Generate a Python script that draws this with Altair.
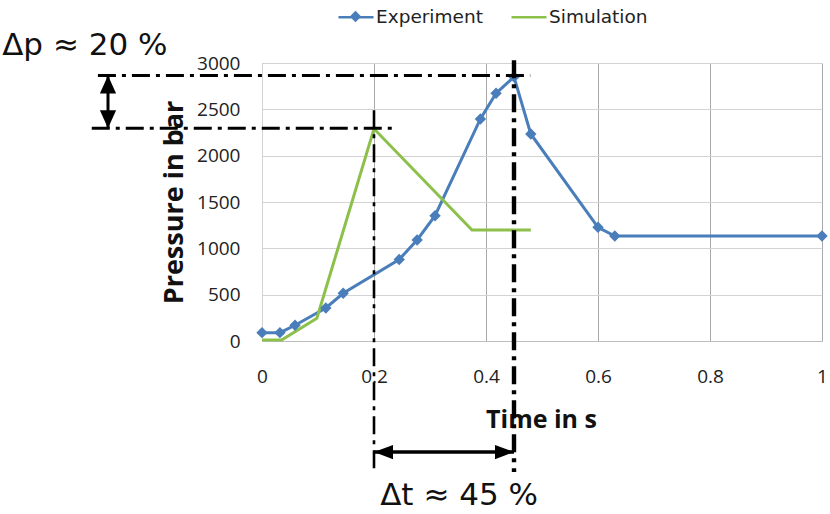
import altair as alt
import pandas as pd

# ---- data ----
exp_t = [0.0, 0.032, 0.059, 0.114, 0.145, 0.245, 0.277, 0.309, 0.390, 0.418, 0.450, 0.480, 0.600, 0.630, 1.0]
exp_p = [90, 90, 170, 356, 515, 880, 1090, 1352, 2396, 2673, 2850, 2234, 1227, 1133, 1133]
sim_t = [0.0, 0.035, 0.098, 0.200, 0.375, 0.480]
sim_p = [10, 10, 245, 2290, 1198, 1198]

series_names = ["Experiment", "Simulation"]
series_colors = ["#4a7ebb", "#8cc04a"]

x_ticks = [0, 0.2, 0.4, 0.6, 0.8, 1]
y_ticks = [0, 500, 1000, 1500, 2000, 2500, 3000]

# annotation guide lines (dash-dot), in data units
guide_x = [-0.293, -0.304, 0.2, 0.45]
guide_x2 = [0.479, 0.239, 0.2, 0.45]
guide_y = [2865, 2295, 2490, 3030]
guide_y2 = [2865, 2295, -1414, -1414]
guide_w = [3.2, 3.0, 2.6, 4.4]

# double arrows
varrow_t = -0.275
varrow_p = [2865, 2295]
harrow_t = [0.2, 0.45]
harrow_p = -1198

ann_text = ["Δp ≈ 20 %", "Δt ≈ 45 %"]
ann_t = [-0.464, 0.211]
ann_p = [3086, -1765]

# ---- tables ----
df = pd.concat([
    pd.DataFrame({"t": exp_t, "p": exp_p, "series": series_names[0]}),
    pd.DataFrame({"t": sim_t, "p": sim_p, "series": series_names[1]}),
], ignore_index=True)

guides = pd.DataFrame({"x": guide_x, "x2": guide_x2, "y": guide_y, "y2": guide_y2, "w": guide_w})
px_per_bar = 278 / 3000.0
px_per_t = 560.0
v_off = 9 / px_per_bar
h_off = 9.5 / px_per_t
vheads = pd.DataFrame({"t": [varrow_t, varrow_t],
                       "p": [varrow_p[0] - v_off, varrow_p[1] + v_off],
                       "dir": ["up", "down"]})
hheads = pd.DataFrame({"t": [harrow_t[0] + h_off, harrow_t[1] - h_off],
                       "p": [harrow_p, harrow_p],
                       "dir": ["left", "right"]})
varrow = pd.DataFrame({"t": [varrow_t], "p": [varrow_p[0]], "p2": [varrow_p[1]]})
harrow = pd.DataFrame({"t": [harrow_t[0]], "t2": [harrow_t[1]], "p": [harrow_p]})
texts = pd.DataFrame({"t": ann_t, "p": ann_p, "txt": ann_text})

xs = alt.Scale(domain=[0, 1], nice=False, zero=False)
ys = alt.Scale(domain=[0, 3000], nice=False, zero=False)

x_axis = alt.Axis(values=x_ticks, format="~g", title="Time in s", grid=True, gridColor="#a9a9a9",
                  gridWidth=1, ticks=False, domainColor="#bdbdbd", labelPadding=26, labelFlush=False,
                  labelFont="Open Sans", labelFontSize=19, labelColor="#222222",
                  titleFont="Open Sans", titleFontSize=25, titleFontWeight="bold", titleColor="#111111",
                  titleX=279, titleY=86, titleBaseline="alphabetic", titleAlign="center")
y_axis = alt.Axis(values=y_ticks, format="d", title="Pressure in bar", grid=True, gridColor="#d3d3d3",
                  gridWidth=1, ticks=False, domainColor="#d3d3d3", labelPadding=22, labelFlush=False,
                  labelFont="Open Sans", labelFontSize=19, labelColor="#222222",
                  titleFont="Open Sans", titleFontSize=27, titleFontWeight="bold", titleColor="#111111",
                  titleAngle=-90, titleX=-80, titleY=139, titleBaseline="alphabetic", titleAlign="center")

base = alt.Chart(df)

lines = base.mark_line(strokeWidth=3).encode(
    x=alt.X("t:Q", scale=xs, axis=x_axis),
    y=alt.Y("p:Q", scale=ys, axis=y_axis),
    color=alt.Color("series:N", scale=alt.Scale(domain=series_names, range=series_colors),
                    legend=alt.Legend(orient="none", legendX=75, legendY=-65, direction="horizontal",
                                      title=None, symbolType="stroke", symbolSize=1225,
                                      symbolStrokeWidth=2.6, labelFont="DejaVu Sans", labelFontSize=18.5,
                                      labelColor="#222222", labelOffset=1, columnPadding=23, padding=0)),
    order=alt.Order("t:Q"),
)

markers = base.transform_filter(alt.datum.series == "Experiment").mark_point(
    filled=True, opacity=1, size=130, color=series_colors[0]
).encode(
    x=alt.X("t:Q", scale=xs),
    y=alt.Y("p:Q", scale=ys),
    shape=alt.Shape("series:N", scale=alt.Scale(domain=["Experiment"], range=["diamond"]),
                    legend=alt.Legend(orient="none", legendX=87, legendY=-53, title=None,
                                      labelExpr="''", labelFontSize=1, labelOffset=0, padding=0,
                                      symbolSize=130, symbolFillColor=series_colors[0],
                                      symbolStrokeColor=series_colors[0], symbolOpacity=1)),
)

guide_layer = alt.Chart(guides).mark_rule(color="black", strokeDash=[18, 6, 4, 6]).encode(
    x=alt.X("x:Q", scale=xs), x2="x2:Q",
    y=alt.Y("y:Q", scale=ys), y2="y2:Q",
    strokeWidth=alt.StrokeWidth("w:Q", scale=None, legend=None),
)

varrow_layer = alt.Chart(varrow).mark_rule(color="black", strokeWidth=3).encode(
    x=alt.X("t:Q", scale=xs), y=alt.Y("p:Q", scale=ys), y2="p2:Q")
harrow_layer = alt.Chart(harrow).mark_rule(color="black", strokeWidth=3.5).encode(
    x=alt.X("t:Q", scale=xs), x2="t2:Q", y=alt.Y("p:Q", scale=ys))

vhead_layer = alt.Chart(vheads).mark_point(filled=True, opacity=1, color="black", size=324).encode(
    x=alt.X("t:Q", scale=xs), y=alt.Y("p:Q", scale=ys),
    shape=alt.Shape("dir:N", scale=alt.Scale(domain=["up", "down"],
                    range=["M0,-1L0.9,1L-0.9,1Z", "M0,1L0.9,-1L-0.9,-1Z"]), legend=None))
hhead_layer = alt.Chart(hheads).mark_point(filled=True, opacity=1, color="black", size=361).encode(
    x=alt.X("t:Q", scale=xs), y=alt.Y("p:Q", scale=ys),
    shape=alt.Shape("dir:N", scale=alt.Scale(domain=["left", "right"],
                    range=["M-1,0L1,-0.75L1,0.75Z", "M1,0L-1,-0.75L-1,0.75Z"]), legend=None))

text_layer = alt.Chart(texts).mark_text(font="DejaVu Sans", fontSize=31, align="left",
                                        baseline="alphabetic", color="#111111").encode(
    x=alt.X("t:Q", scale=xs), y=alt.Y("p:Q", scale=ys), text="txt:N")

chart = alt.layer(
    lines, markers, guide_layer, varrow_layer, harrow_layer, vhead_layer, hhead_layer, text_layer
).resolve_scale(shape="independent").properties(
    width=560, height=278,
    padding={"left": 262, "top": 63, "right": 8, "bottom": 173},
    autosize=alt.AutoSizeParams(type="none"),
    background="white",
).configure_view(stroke=None)

chart.save("out.html", embed_options={"renderer": "svg", "actions": False})
